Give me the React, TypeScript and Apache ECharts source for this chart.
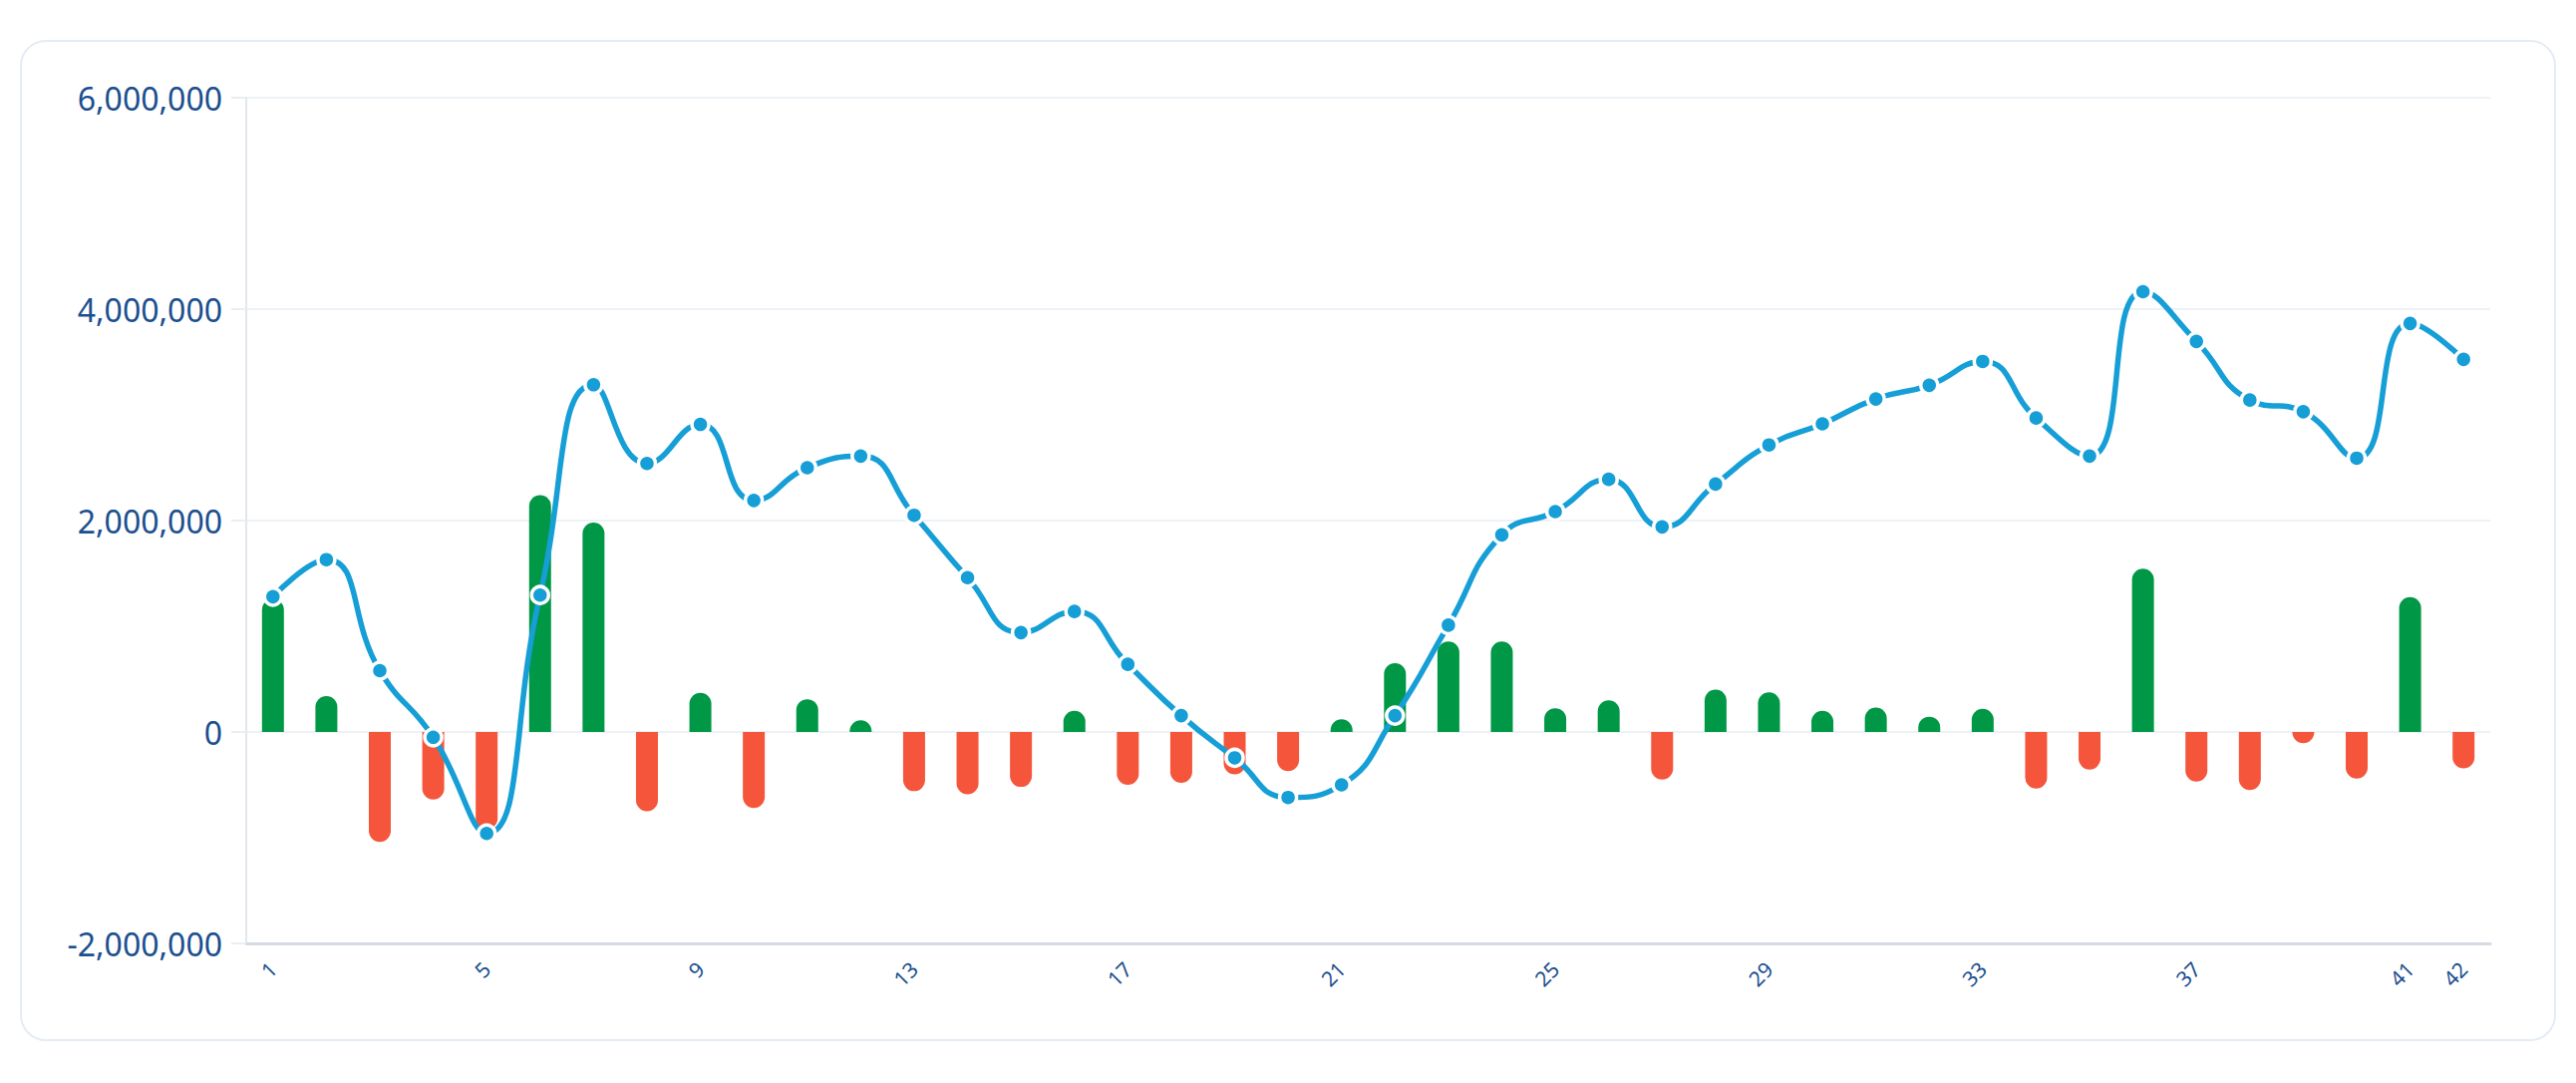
import React, { useEffect, useRef } from "react";
import * as echarts from "echarts";

const categories: string[] = Array.from({ length: 42 }, (_, i) => String(i + 1));

// Period change (bars)
const changeValues: number[] = [
  1260000, 340000, -1040000, -640000, -920000, 2240000, 1980000, -750000, 370000, -720000,
  310000, 110000, -560000, -590000, -520000, 200000, -500000, -480000, -400000, -370000,
  120000, 650000, 855000, 855000, 225000, 300000, -450000, 400000, 375000, 200000,
  230000, 145000, 220000, -535000, -355000, 1545000, -470000, -550000, -105000, -440000,
  1275000, -345000,
];

// Running total (line)
const totalValues: number[] = [
  1280000, 1630000, 580000, -50000, -960000, 1295000, 3285000, 2540000, 2910000, 2190000,
  2500000, 2610000, 2050000, 1460000, 940000, 1140000, 640000, 155000, -245000, -620000,
  -500000, 155000, 1010000, 1865000, 2085000, 2390000, 1940000, 2345000, 2715000, 2915000,
  3150000, 3280000, 3505000, 2970000, 2610000, 4165000, 3695000, 3140000, 3030000, 2590000,
  3865000, 3525000,
];

const yTicks: number[] = [-2000000, 0, 2000000, 4000000, 6000000];

const GREEN = "#009846";
const RED = "#f5563b";
const BLUE = "#169ed6";
const LABEL = "#1b4f8f";

export default function App() {
  const ref = useRef<HTMLDivElement>(null);

  useEffect(() => {
    if (!ref.current) return;
    const chart = echarts.init(ref.current, null, { renderer: "svg" });
    const barData = changeValues.map((v) => ({
      value: v,
      itemStyle: {
        color: v >= 0 ? GREEN : RED,
        borderRadius: v >= 0 ? [11, 11, 0, 0] : [0, 0, 11, 11],
      },
    }));
    chart.setOption({
      animation: false,
      backgroundColor: "transparent",
      grid: { left: 247, right: 86, top: 98, bottom: 140, containLabel: false },
      xAxis: {
        type: "category",
        data: categories,
        boundaryGap: true,
        axisLine: { show: true, onZero: false, lineStyle: { color: "#d5dbe3", width: 3 } },
        axisTick: { show: false },
        axisLabel: {
          interval: 3,
          showMaxLabel: true,
          rotate: 45,
          margin: 22,
          color: LABEL,
          fontSize: 21,
          fontFamily: "Noto Sans",
        },
        splitLine: { show: false },
      },
      yAxis: {
        type: "value",
        min: yTicks[0],
        max: yTicks[yTicks.length - 1],
        interval: 2000000,
        axisLine: { show: true, lineStyle: { color: "#e2e6ec", width: 2 } },
        axisTick: { show: true, length: 15, lineStyle: { color: "#e9eef5", width: 2 } },
        axisLabel: {
          margin: 24,
          color: LABEL,
          fontSize: 32,
          fontFamily: "Noto Sans",
          formatter: (v: number) => v.toLocaleString("en-US"),
        },
        splitLine: { show: true, lineStyle: { color: "#edf2f7", width: 2 } },
      },
      series: [
        {
          type: "bar",
          data: barData,
          barWidth: 22,
          z: 2,
        },
        {
          type: "line",
          data: totalValues,
          smooth: true,
          symbol: "circle",
          symbolSize: 17,
          showAllSymbol: true,
          lineStyle: { color: BLUE, width: 5.5 },
          itemStyle: { color: BLUE, borderColor: "#ffffff", borderWidth: 3.5 },
          z: 3,
        },
      ],
    });
    return () => chart.dispose();
  }, []);

  return (
    <div style={{ position: "fixed", left: 0, top: 0, width: 2584, height: 1086, background: "#ffffff" }}>
      <div
        style={{
          position: "absolute",
          left: 20,
          top: 40,
          width: 2544,
          height: 1004,
          boxSizing: "border-box",
          border: "2px solid #e4ecf5",
          borderRadius: 26,
          background: "#ffffff",
        }}
      />
      <div ref={ref} style={{ position: "absolute", left: 0, top: 0, width: 2584, height: 1086 }} />
    </div>
  );
}
